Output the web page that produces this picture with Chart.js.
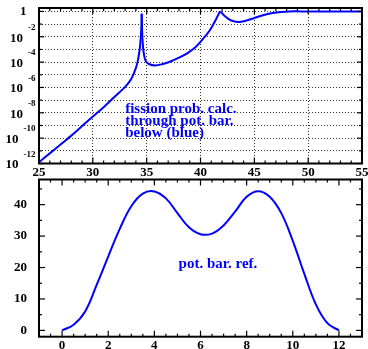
<!DOCTYPE html>
<html>
<head>
<meta charset="utf-8">
<script src="https://cdn.jsdelivr.net/npm/chart.js@4.4.1/dist/chart.umd.min.js"></script>
<style>
  html, body { margin: 0; padding: 0; background: #fff; }
  #quadro { position: relative; width: 368px; height: 349px; }
  canvas { position: absolute; left: 0; top: 0; }
</style>
</head>
<body>
<div id="quadro">
  <canvas id="graficoTopo" width="368" height="349"></canvas>
  <canvas id="graficoBaixo" width="368" height="349"></canvas>
</div>
<script>
// Dados do painel de cima (probabilidade de fissão, escala log)
const xFissao = [25, 26, 27, 28, 29, 30, 31, 32, 33, 33.5, 33.75, 34, 34.15, 34.3, 34.4, 34.48, 34.52, 34.54,
    34.58, 34.65, 34.75, 34.9, 35.2, 35.8, 36.5, 37.2, 38, 38.8, 39.5, 40, 40.5, 40.9, 41.3, 41.6,
    41.8, 42, 42.3, 42.8, 43.5, 44.2, 45, 45.8, 46.7, 47.5, 48.2, 50, 55];
const probFissao = [1.26e-12, 6.3e-12, 3.16e-11, 1.58e-10, 8.9e-10, 5.0e-9, 2.8e-8, 1.78e-7, 1.12e-6,
    3.8e-6, 1.0e-5, 3.5e-5, 1.0e-4, 5.0e-4, 2.5e-3, 0.02, 0.126, 0.661,
    0.0251, 2.0e-3, 3.98e-4, 1.26e-4, 7.1e-5, 5.4e-5, 7.1e-5, 1.12e-4, 2.24e-4, 5.2e-4, 1.41e-3,
    3.98e-3, 0.0126, 0.0355, 0.141, 0.447,
    1.0, 0.708, 0.398, 0.2, 0.145, 0.182, 0.302, 0.501, 0.741, 0.912, 1.0, 1.0, 1.0];
// índices dos bicos (pontas agudas) da curva
const bicosFissao = [17, 34];
const ticksXTopo = [25, 30, 35, 40, 45, 50, 55];
const ticksYTopo = [1, 1e-1, 1e-2, 1e-3, 1e-4, 1e-5, 1e-6, 1e-7, 1e-8, 1e-9, 1e-10, 1e-11, 1e-12];
const expoentesYTopo = [0, null, -2, null, -4, null, -6, null, -8, null, -10, null, -12];
const notaTopo = ["fission prob. calc.", "through pot. bar.", "below (blue)"];

// Dados do painel de baixo (barreira de potencial de referência)
const xBarreira = [0, 0.5, 1, 1.5, 2, 2.5, 3, 3.5, 4, 4.5, 5, 5.5, 6, 6.5, 7, 7.5, 8, 8.5, 9, 9.5,
    10, 10.5, 11, 11.5, 12];
const vBarreira = [0, 1.8, 6.0, 14.5, 23.5, 32.3, 39.5, 43.5, 44.2, 42.0, 37.3, 32.8, 30.6, 30.8,
    33.4, 37.8, 42.5, 44.3, 42.5, 37.3, 28.5, 18.0, 8.3, 2.3, 0];
const ticksXBaixo = [0, 2, 4, 6, 8, 10, 12];
const ticksYBaixo = [0, 10, 20, 30, 40];
const notaBaixo = ["pot. bar. ref."];

const FONTE = "'Liberation Serif', 'Times New Roman', serif";
const AZUL = "#0000ff";

// moldura com tiques para dentro, nos quatro lados
const moldura = {
    id: "moldura",
    afterDatasetsDraw(chart, args, op) {
        const { ctx, chartArea: a, scales } = chart;
        const linha = (x1, y1, x2, y2) => {
            ctx.beginPath(); ctx.moveTo(x1, y1); ctx.lineTo(x2, y2); ctx.stroke();
        };
        ctx.save();
        ctx.strokeStyle = "#000";
        ctx.lineWidth = 1.2;
        op.tiquesX.forEach(([v, tam]) => {
            const px = scales.x.getPixelForValue(v);
            linha(px, a.bottom, px, a.bottom - tam);
            linha(px, a.top, px, a.top + tam);
        });
        op.tiquesY.forEach(([v, tam]) => {
            const py = scales.y.getPixelForValue(v);
            linha(a.left, py, a.left + tam, py);
            linha(a.right, py, a.right - tam, py);
        });
        ctx.lineWidth = 2;
        ctx.strokeRect(a.left, a.top, a.right - a.left, a.bottom - a.top);
        ctx.restore();
    }
};

// rótulos 10^-n do eixo log
const rotulosLog = {
    id: "rotulosLog",
    afterDraw(chart) {
        const { ctx, chartArea: a } = chart;
        const y = chart.scales.y;
        if (y.type !== "logarithmic") return;
        const dir = a.left - 3.5;
        ctx.save();
        ctx.fillStyle = "#000";
        ctx.textAlign = "right";
        ctx.textBaseline = "middle";
        ticksYTopo.forEach((v, i) => {
            const e = expoentesYTopo[i];
            if (e === null) return;
            const py = y.getPixelForValue(v);
            if (e === 0) {
                ctx.font = `bold 13px ${FONTE}`;
                ctx.fillText("1", dir - 9, py);
                return;
            }
            ctx.font = `bold 9px ${FONTE}`;
            const sup = String(e);
            ctx.fillText(sup, dir, py - 9);
            const w = ctx.measureText(sup).width;
            ctx.font = `bold 13px ${FONTE}`;
            ctx.fillText("10", dir - w - 5, py + 1.5);
        });
        ctx.restore();
    }
};

// textos azuis dentro do gráfico
const notas = {
    id: "notas",
    afterDraw(chart, args, op) {
        const { ctx, scales } = chart;
        const px = scales.x.getPixelForValue(op.x);
        const py = scales.y.getPixelForValue(op.y);
        ctx.save();
        ctx.fillStyle = AZUL;
        ctx.font = `bold 15px ${FONTE}`;
        ctx.textAlign = "left";
        ctx.textBaseline = "middle";
        op.linhas.forEach((t, i) => ctx.fillText(t, px, py + i * 12));
        ctx.restore();
    }
};

const fonteTique = { family: FONTE, size: 13, weight: "bold" };

// tamanho fixo dos eixos, sem a folga automática dos rótulos
const fixarAltura = h => s => { s.height = h; s.paddingLeft = 0; s.paddingRight = 0; };
const fixarLargura = w => s => { s.width = w; s.paddingTop = 0; s.paddingBottom = 0; };

function tiques(ini, fim, passo, maiores, grande, pequeno) {
    const lista = [];
    for (let v = ini; v <= fim + 1e-9; v += passo) {
        lista.push([v, maiores.includes(v) ? grande : pequeno]);
    }
    return lista;
}

// a curva de cima é dividida nos bicos para a suavização não passar da ponta
function trechos(xs, ys, cortes) {
    const limites = [0, ...cortes, xs.length - 1];
    const lista = [];
    for (let k = 0; k < limites.length - 1; k++) {
        const pts = [];
        for (let i = limites[k]; i <= limites[k + 1]; i++) pts.push({ x: xs[i], y: ys[i] });
        lista.push({
            data: pts,
            borderColor: AZUL,
            borderWidth: 2,
            pointRadius: 0,
            fill: false,
            tension: 0.35
        });
    }
    return lista;
}

// Painel de cima
new Chart(document.getElementById("graficoTopo"), {
    type: "line",
    data: { datasets: trechos(xFissao, probFissao, bicosFissao) },
    options: {
        responsive: false,
        animation: false,
        devicePixelRatio: 1,
        layout: { padding: { left: 0, right: 6, top: 8, bottom: 170.5 } },
        plugins: {
            legend: { display: false },
            tooltip: { enabled: false },
            moldura: {
                tiquesX: tiques(25, 55, 1, ticksXTopo, 6, 3),
                tiquesY: ticksYTopo.map((v, i) => [v, expoentesYTopo[i] === null ? 3 : 5])
            },
            notas: { x: 33, y: 1.8e-8, linhas: notaTopo }
        },
        scales: {
            x: {
                type: "linear", min: 25, max: 55, bounds: "data",
                afterBuildTicks: s => { s.ticks = ticksXTopo.map(v => ({ value: v })); },
                afterFit: fixarAltura(15),
                grid: { color: "#333", lineWidth: 1, drawTicks: false },
                border: { display: false, dash: [1, 2] },
                ticks: { font: fonteTique, color: "#000", padding: 1, maxRotation: 0, autoSkip: false }
            },
            y: {
                type: "logarithmic", min: 1e-12, max: 1.86, bounds: "data",
                afterBuildTicks: s => { s.ticks = ticksYTopo.map(v => ({ value: v })); },
                afterFit: fixarLargura(39),
                grid: { color: "#333", lineWidth: 1, drawTicks: false },
                border: { display: false, dash: [1, 2] },
                ticks: { display: false }
            }
        }
    },
    plugins: [moldura, rotulosLog, notas]
});

// Painel de baixo
new Chart(document.getElementById("graficoBaixo"), {
    type: "line",
    data: {
        datasets: [{
            data: xBarreira.map((x, i) => ({ x: x, y: vBarreira[i] })),
            borderColor: AZUL,
            borderWidth: 2,
            pointRadius: 0,
            fill: false,
            tension: 0.4
        }]
    },
    options: {
        responsive: false,
        animation: false,
        devicePixelRatio: 1,
        layout: { padding: { left: 0, right: 6, top: 179.5, bottom: 0 } },
        plugins: {
            legend: { display: false },
            tooltip: { enabled: false },
            moldura: {
                tiquesX: tiques(-1, 13, 0.5, ticksXBaixo, 6, 3),
                tiquesY: tiques(0, 45, 5, ticksYBaixo, 6, 3)
            },
            notas: { x: 5.05, y: 21, linhas: notaBaixo }
        },
        scales: {
            x: {
                type: "linear", min: -1, max: 13, bounds: "data",
                afterBuildTicks: s => { s.ticks = ticksXBaixo.map(v => ({ value: v })); },
                afterFit: fixarAltura(12.3),
                grid: { display: false, drawTicks: false },
                border: { display: false },
                ticks: { font: fonteTique, color: "#000", padding: 1, maxRotation: 0, autoSkip: false }
            },
            y: {
                type: "linear", min: -2, max: 48, bounds: "data",
                afterBuildTicks: s => { s.ticks = ticksYBaixo.map(v => ({ value: v })); },
                afterFit: fixarLargura(39),
                grid: { display: false, drawTicks: false },
                border: { display: false },
                ticks: { font: fonteTique, color: "#000", padding: 12 }
            }
        }
    },
    plugins: [moldura, notas]
});
</script>
</body>
</html>
